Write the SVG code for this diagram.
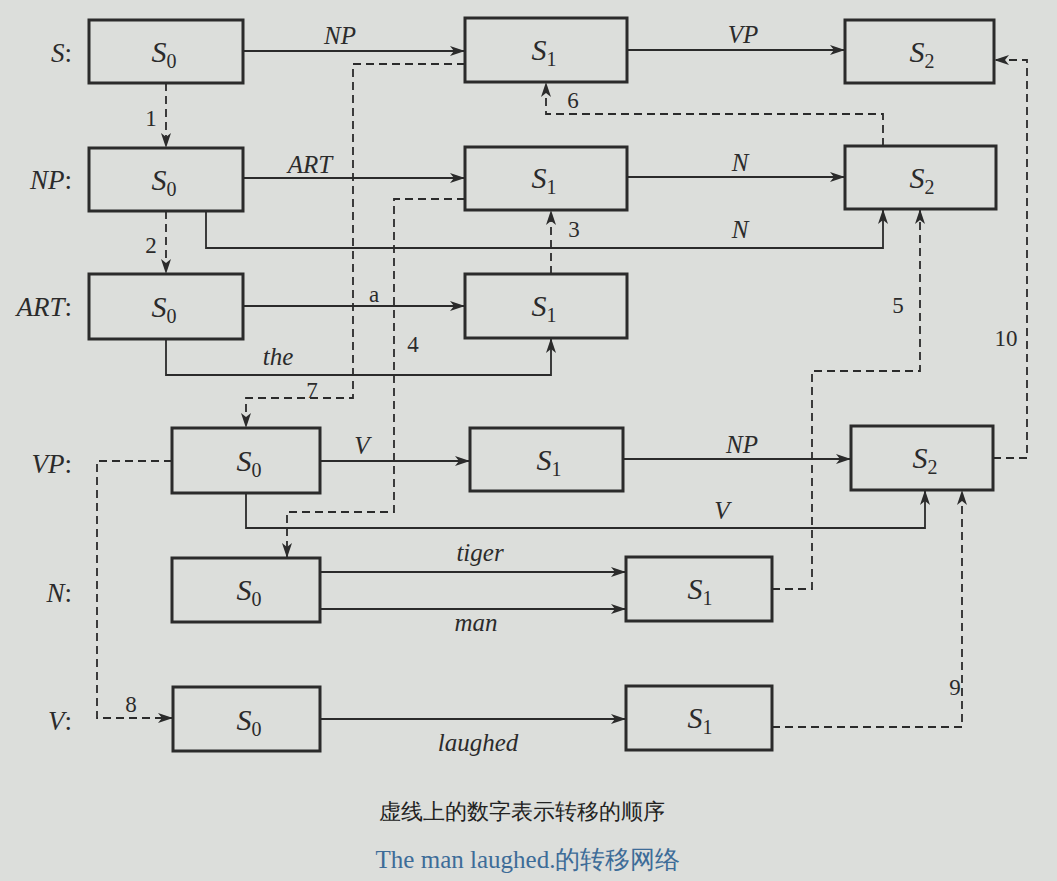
<svg xmlns="http://www.w3.org/2000/svg" width="1057" height="881" viewBox="0 0 1057 881">
<defs>
<marker id="ah" markerUnits="userSpaceOnUse" markerWidth="16" markerHeight="10" refX="15" refY="5" orient="auto">
<path d="M0,0 L15,5 L0,10 L4,5 Z" fill="#2b2b2b"/>
</marker>
</defs>
<style>
text{font-family:'Liberation Serif','Times New Roman',serif}
.bx{fill:#dcdedb;stroke:#2b2b2b;stroke-width:3}
.ln{fill:none;stroke:#2b2b2b;stroke-width:1.8}
.ds{fill:none;stroke:#2b2b2b;stroke-width:1.8;stroke-dasharray:8 5}
.st{font-size:30px;fill:#2b2b2b;text-anchor:middle}
.i{font-style:italic}
.sub{font-size:20px}
.rl{font-size:27px;fill:#2b2b2b;text-anchor:end}
.lb{font-size:25px;font-style:italic;fill:#2b2b2b;text-anchor:middle}
.nm{font-size:23px;fill:#2b2b2b;text-anchor:middle}
.cap{font-size:22px;fill:#222;text-anchor:middle}
.cap2{font-size:25px;fill:#3d6c98;text-anchor:middle}
</style>
<rect x="0" y="0" width="1057" height="881" fill="#dcdedb"/>

<g id="row-labels">
<text class="rl" x="72" y="62"><tspan class="i">S</tspan>:</text>
<text class="rl" x="72" y="189"><tspan class="i">NP</tspan>:</text>
<text class="rl" x="72" y="316"><tspan class="i">ART</tspan>:</text>
<text class="rl" x="72" y="473"><tspan class="i">VP</tspan>:</text>
<text class="rl" x="72" y="602"><tspan class="i">N</tspan>:</text>
<text class="rl" x="72" y="730"><tspan class="i">V</tspan>:</text>
</g>

<g id="connectors">
<path class="ln" d="M243,51 H465" marker-end="url(#ah)"/>
<path class="ln" d="M627,50 H845" marker-end="url(#ah)"/>
<path class="ln" d="M243,178 H465" marker-end="url(#ah)"/>
<path class="ln" d="M627,177 H845" marker-end="url(#ah)"/>
<path class="ln" d="M206,211 V248 H883 V209" marker-end="url(#ah)"/>
<path class="ln" d="M243,306 H465" marker-end="url(#ah)"/>
<path class="ln" d="M166,339 V375 H551 V338" marker-end="url(#ah)"/>
<path class="ln" d="M320,461 H470" marker-end="url(#ah)"/>
<path class="ln" d="M623,459 H851" marker-end="url(#ah)"/>
<path class="ln" d="M246,493 V528 H925 V490" marker-end="url(#ah)"/>
<path class="ln" d="M320,572 H626" marker-end="url(#ah)"/>
<path class="ln" d="M320,609 H626" marker-end="url(#ah)"/>
<path class="ln" d="M320,719 H626" marker-end="url(#ah)"/>
<path class="ds" d="M166,83 V148" marker-end="url(#ah)"/>
<path class="ds" d="M166,211 V274" marker-end="url(#ah)"/>
<path class="ds" d="M551,274 V210" marker-end="url(#ah)"/>
<path class="ds" d="M465,199 H394 V512 H287 V558" marker-end="url(#ah)"/>
<path class="ds" d="M772,589 H812 V371 H920 V209" marker-end="url(#ah)"/>
<path class="ds" d="M883,146 V114 H546 V82" marker-end="url(#ah)"/>
<path class="ds" d="M465,64 H353 V398 H246 V428" marker-end="url(#ah)"/>
<path class="ds" d="M172,461 H97 V718 H173" marker-end="url(#ah)"/>
<path class="ds" d="M772,727 H962 V490" marker-end="url(#ah)"/>
<path class="ds" d="M993,458 H1027 V60 H994" marker-end="url(#ah)"/>
</g>

<g id="arc-labels">
<text class="lb" x="340" y="44">NP</text>
<text class="lb" x="743" y="43">VP</text>
<text class="lb" x="310" y="173">ART</text>
<text class="lb" x="740" y="171">N</text>
<text class="lb" x="740" y="238">N</text>
<text class="nm" x="374" y="302">a</text>
<text class="lb" x="278" y="365">the</text>
<text class="lb" x="362" y="454">V</text>
<text class="lb" x="742" y="453">NP</text>
<text class="lb" x="722" y="519">V</text>
<text class="lb" x="480" y="561">tiger</text>
<text class="lb" x="476" y="631">man</text>
<text class="lb" x="478" y="751">laughed</text>
</g>

<g id="order-labels">
<text class="nm" x="151" y="126">1</text>
<text class="nm" x="151" y="253">2</text>
<text class="nm" x="574" y="237">3</text>
<text class="nm" x="413" y="352">4</text>
<text class="nm" x="898" y="313">5</text>
<text class="nm" x="573" y="108">6</text>
<text class="nm" x="312" y="398">7</text>
<text class="nm" x="131" y="712">8</text>
<text class="nm" x="955" y="695">9</text>
<text class="nm" x="1006" y="346">10</text>
</g>

<g id="S-S0"><rect class="bx" x="89" y="20" width="154" height="63"/><text class="st" x="164" y="62"><tspan class="i">S</tspan><tspan class="sub" dy="6">0</tspan></text></g>
<g id="S-S1"><rect class="bx" x="465" y="18" width="162" height="64"/><text class="st" x="544" y="60"><tspan class="i">S</tspan><tspan class="sub" dy="6">1</tspan></text></g>
<g id="S-S2"><rect class="bx" x="845" y="20" width="149" height="63"/><text class="st" x="922" y="62"><tspan class="i">S</tspan><tspan class="sub" dy="6">2</tspan></text></g>

<g id="NP-S0"><rect class="bx" x="89" y="148" width="154" height="63"/><text class="st" x="164" y="190"><tspan class="i">S</tspan><tspan class="sub" dy="6">0</tspan></text></g>
<g id="NP-S1"><rect class="bx" x="465" y="147" width="162" height="63"/><text class="st" x="544" y="188"><tspan class="i">S</tspan><tspan class="sub" dy="6">1</tspan></text></g>
<g id="NP-S2"><rect class="bx" x="845" y="146" width="151" height="63"/><text class="st" x="922" y="188"><tspan class="i">S</tspan><tspan class="sub" dy="6">2</tspan></text></g>

<g id="ART-S0"><rect class="bx" x="89" y="274" width="154" height="65"/><text class="st" x="164" y="317"><tspan class="i">S</tspan><tspan class="sub" dy="6">0</tspan></text></g>
<g id="ART-S1"><rect class="bx" x="465" y="274" width="162" height="64"/><text class="st" x="544" y="316"><tspan class="i">S</tspan><tspan class="sub" dy="6">1</tspan></text></g>

<g id="VP-S0"><rect class="bx" x="172" y="428" width="148" height="65"/><text class="st" x="249" y="471"><tspan class="i">S</tspan><tspan class="sub" dy="6">0</tspan></text></g>
<g id="VP-S1"><rect class="bx" x="470" y="428" width="153" height="63"/><text class="st" x="549" y="470"><tspan class="i">S</tspan><tspan class="sub" dy="6">1</tspan></text></g>
<g id="VP-S2"><rect class="bx" x="851" y="426" width="142" height="64"/><text class="st" x="925" y="468"><tspan class="i">S</tspan><tspan class="sub" dy="6">2</tspan></text></g>

<g id="N-S0"><rect class="bx" x="172" y="558" width="148" height="64"/><text class="st" x="249" y="600"><tspan class="i">S</tspan><tspan class="sub" dy="6">0</tspan></text></g>
<g id="N-S1"><rect class="bx" x="626" y="557" width="146" height="64"/><text class="st" x="700" y="599"><tspan class="i">S</tspan><tspan class="sub" dy="6">1</tspan></text></g>

<g id="V-S0"><rect class="bx" x="173" y="687" width="147" height="64"/><text class="st" x="249" y="730"><tspan class="i">S</tspan><tspan class="sub" dy="6">0</tspan></text></g>
<g id="V-S1"><rect class="bx" x="626" y="686" width="146" height="64"/><text class="st" x="700" y="728"><tspan class="i">S</tspan><tspan class="sub" dy="6">1</tspan></text></g>

<g id="captions">
<text class="cap" x="522" y="819" font-family="'Liberation Serif','Noto Sans CJK SC',serif">虚线上的数字表示转移的顺序</text>
<text class="cap2" x="528" y="868" font-family="'Liberation Serif','Noto Sans CJK SC',serif">The man laughed.的转移网络</text>
</g>
</svg>
